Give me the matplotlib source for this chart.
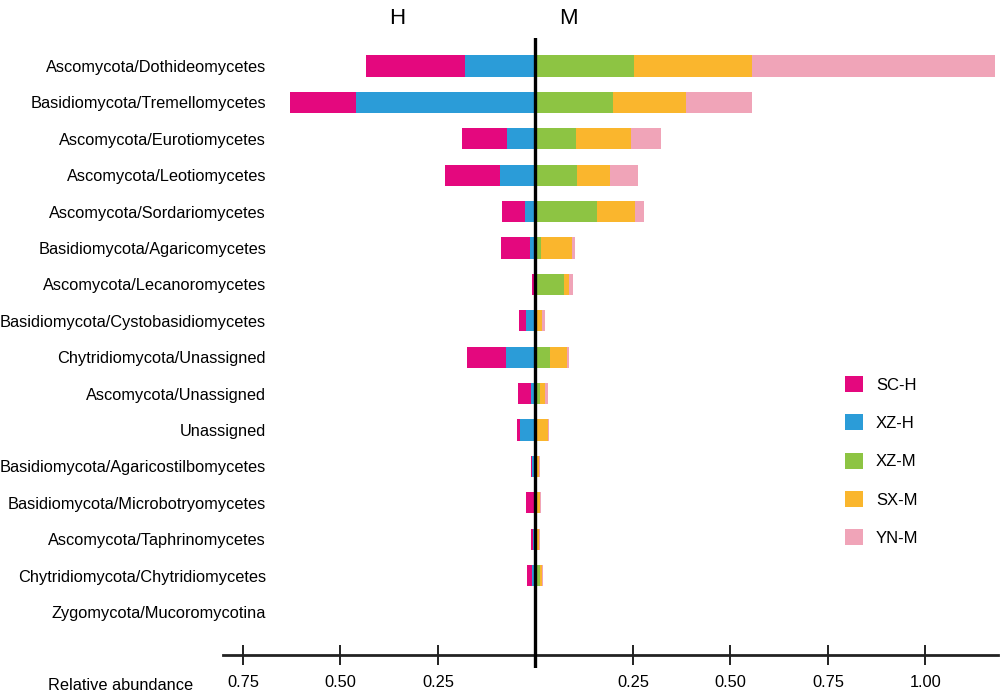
import numpy as np
import matplotlib
matplotlib.use("Agg")
import matplotlib.pyplot as plt

# DATA
###################################
categories = ["Ascomycota/Dothideomycetes", "Basidiomycota/Tremellomycetes",
              "Ascomycota/Eurotiomycetes", "Ascomycota/Leotiomycetes",
              "Ascomycota/Sordariomycetes", "Basidiomycota/Agaricomycetes",
              "Ascomycota/Lecanoromycetes", "Basidiomycota/Cystobasidiomycetes",
              "Chytridiomycota/Unassigned", "Ascomycota/Unassigned",
              "Unassigned", "Basidiomycota/Agaricostilbomycetes",
              "Basidiomycota/Microbotryomycetes", "Ascomycota/Taphrinomycetes",
              "Chytridiomycota/Chytridiomycetes", "Zygomycota/Mucoromycotina"]

# H side (drawn to the left)
sc_h = [0.255, 0.168, 0.113, 0.142, 0.060, 0.074, 0.010, 0.018,
        0.100, 0.033, 0.007, 0.004, 0.022, 0.006, 0.012, 0.0]
xz_h = [0.180, 0.460, 0.074, 0.090, 0.026, 0.014, 0.0, 0.024,
        0.076, 0.012, 0.040, 0.008, 0.002, 0.006, 0.010, 0.0]
# M side (drawn to the right)
xz_m = [0.252, 0.200, 0.103, 0.106, 0.158, 0.015, 0.072, 0.005,
        0.038, 0.013, 0.002, 0.003, 0.001, 0.003, 0.013, 0.0]
sx_m = [0.303, 0.186, 0.143, 0.085, 0.097, 0.079, 0.015, 0.012,
        0.044, 0.011, 0.030, 0.006, 0.010, 0.007, 0.004, 0.0]
yn_m = [0.623, 0.170, 0.075, 0.072, 0.024, 0.008, 0.0095, 0.008,
        0.003, 0.007, 0.003, 0.004, 0.003, 0.003, 0.002, 0.0]

tick_vals = [-0.75, -0.50, -0.25, 0.25, 0.50, 0.75, 1.00]

colors = {"SC-H": "#E4087E", "XZ-H": "#2B9CD8", "XZ-M": "#8DC443",
          "SX-M": "#FAB62D", "YN-M": "#F0A4B8"}

# PLOT
###################################
plt.rcParams['font.family'] = ['Liberation Sans', 'DejaVu Sans']
fs = 11.8

fig = plt.figure(figsize=(10, 6.95), dpi=100)
ax = fig.add_axes([0.223, 1 - 668 / 695, 0.775, 630 / 695])

y = np.arange(len(categories))
h = 0.58

sc = np.array(sc_h)
xz = np.array(xz_h)
g = np.array(xz_m)
o = np.array(sx_m)
p = np.array(yn_m)

b1 = ax.barh(y, -xz, left=0, height=h, color=colors["XZ-H"], label="XZ-H")
b0 = ax.barh(y, -sc, left=-xz, height=h, color=colors["SC-H"], label="SC-H")
b2 = ax.barh(y, g, left=0, height=h, color=colors["XZ-M"], label="XZ-M")
b3 = ax.barh(y, o, left=g, height=h, color=colors["SX-M"], label="SX-M")
b4 = ax.barh(y, p, left=g + o, height=h, color=colors["YN-M"], label="YN-M")

ax.axvline(0, color="black", lw=2.4, zorder=5)

ax.set_xlim(-0.801, 1.186)
ax.set_ylim(16.54, -0.77)

ax.set_yticks(y)
ax.set_yticklabels(categories, fontsize=fs)
ax.tick_params(axis='y', length=0, pad=-31)

for side in ["top", "right", "left"]:
    ax.spines[side].set_visible(False)
ax.spines["bottom"].set_position(("data", 16.18))
ax.spines["bottom"].set_linewidth(2.0)
ax.spines["bottom"].set_color("#222222")

ax.set_xticks(tick_vals)
ax.set_xticklabels(["%.2f" % abs(v) for v in tick_vals], fontsize=fs)
ax.tick_params(axis='x', direction='inout', length=15, width=1.4,
               color="#222222", pad=7)

fig.text(0.048, 1 - 685 / 695, "Relative abundance", fontsize=fs,
         ha="left", va="center")
fig.text(0.397, 1 - 18 / 695, "H", fontsize=16, ha="center", va="center")
fig.text(0.568, 1 - 18 / 695, "M", fontsize=16, ha="center", va="center")

fig.legend(handles=[b0, b1, b2, b3, b4], loc="upper left",
           bbox_to_anchor=(0.845, 1 - 376 / 695), frameon=False,
           fontsize=12, handlelength=1.1, handleheight=1.1,
           handletextpad=0.75, labelspacing=1.3, borderpad=0,
           borderaxespad=0)

fig.savefig("out.png", dpi=100)
